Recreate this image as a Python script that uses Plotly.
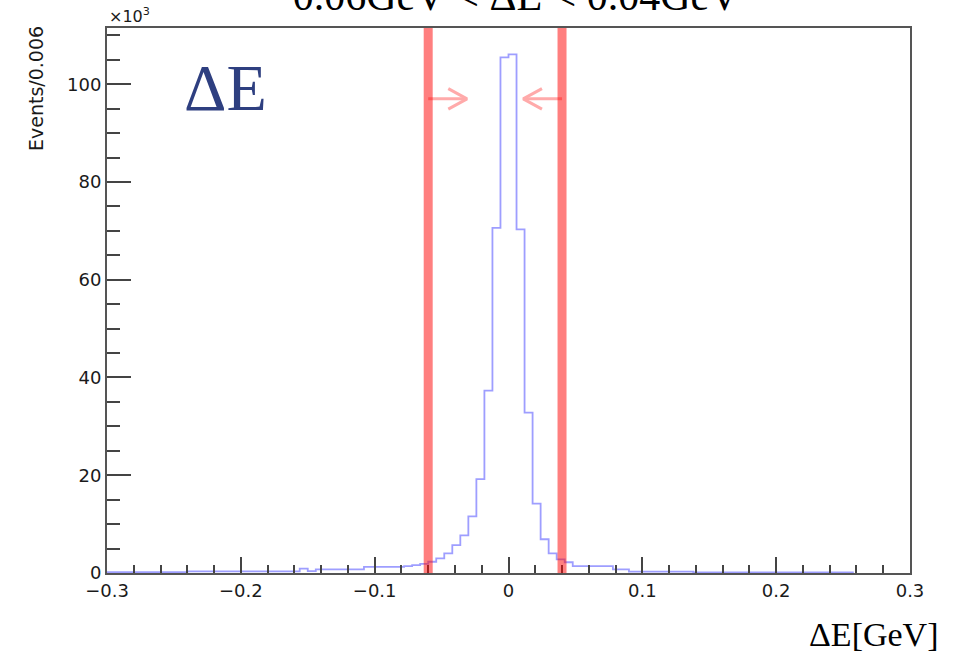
import plotly.graph_objects as go

# ---------------- data ----------------
bin_width = 0.006
x_start = -0.3
# histogram contents (x10^3 events per 0.006 GeV bin), drawn bins from -0.3 up to 0.258
counts = (
    [0.15] * 10 +                      # -0.300 .. -0.240
    [0.35] * 14 +                      # -0.240 .. -0.156
    [0.9, 0.4] +                       # -0.156 .. -0.144
    [0.75] * 6 +                       # -0.144 .. -0.108
    [1.25] * 5 +                       # -0.108 .. -0.078
    [1.4, 1.6, 1.85, 2.3, 3.0, 4.0, 5.7, 7.7, 11.6, 19.2, 37.3, 70.6,
     105.5, 106.1,
     70.3, 32.8, 14.2, 6.9, 4.0, 2.8, 2.2] +
    [1.4] * 5 +                        # 0.048 .. 0.078
    [0.75] * 2 +                       # 0.078 .. 0.090
    [0.3] * 8 +                        # 0.090 .. 0.138
    [0.1] * 20                         # 0.138 .. 0.258
)
cut_lo = -0.06
cut_hi = 0.04
x_ticks = [-0.3, -0.2, -0.1, 0, 0.1, 0.2, 0.3]
y_ticks = [0, 20, 40, 60, 80, 100]

title_text = "−0.06GeV &lt; ΔE &lt; 0.04GeV"
y_title = "Events/0.006"
x_title = "ΔE[GeV]"
big_label = "ΔE"

# ---------------- build step line ----------------
edges = [round(x_start + i * bin_width, 6) for i in range(len(counts) + 1)]
step_y = counts + [counts[-1]]

fig = go.Figure()
fig.add_trace(go.Scatter(
    x=edges, y=step_y, mode="lines", line_shape="hv",
    line=dict(color="rgba(40,40,255,0.45)", width=1.8),
    hoverinfo="skip", showlegend=False))

# arrows pointing inward from the cut lines
arrow_y = 97.0
arrow_len = 0.029
head_dx = 0.014
head_dy = 2.1
for cut, sgn in [(cut_lo, 1), (cut_hi, -1)]:
    tip = cut + sgn * arrow_len
    fig.add_trace(go.Scatter(
        x=[cut, tip, None, tip - sgn * head_dx, tip, tip - sgn * head_dx],
        y=[arrow_y, arrow_y, None, arrow_y + head_dy, arrow_y, arrow_y - head_dy],
        mode="lines", line=dict(color="#FFAAAA", width=3),
        hoverinfo="skip", showlegend=False))

# cut lines
for cut in [cut_lo, cut_hi]:
    fig.add_shape(type="line", xref="x", yref="paper", x0=cut, x1=cut, y0=0, y1=1,
                  line=dict(color="rgba(255,0,0,0.5)", width=9), layer="above")

axis_common = dict(
    showline=True, mirror=True, linecolor="#555555", linewidth=2,
    showgrid=False, zeroline=False, ticks="inside", tickcolor="#444444", tickwidth=2,
    tickfont=dict(family="DejaVu Sans", size=18, color="#1a1a1a"),
)

fig.update_xaxes(
    range=[-0.3, 0.3], tickvals=x_ticks, ticklen=16,
    minor=dict(dtick=0.02, tick0=-0.3, ticklen=8, ticks="inside", tickcolor="#444444", tickwidth=2),
    **axis_common)
fig.update_yaxes(
    range=[0, 111.5], tickvals=y_ticks, ticklen=24,
    minor=dict(dtick=5, tick0=0, ticklen=13, ticks="inside", tickcolor="#444444", tickwidth=2),
    **axis_common)

annotations = [
    dict(text=title_text, xref="paper", yref="paper", x=0.495, y=1, xanchor="center",
         yanchor="bottom", yshift=7, showarrow=False,
         font=dict(family="Liberation Serif", size=42, color="#000000")),
    dict(text="×10<sup>3</sup>", xref="paper", yref="paper", x=0, y=1, xanchor="left",
         yanchor="bottom", showarrow=False,
         font=dict(family="DejaVu Sans", size=16, color="#1a1a1a")),
    dict(text=y_title, xref="paper", yref="paper", x=0, xshift=-71, y=0.888,
         xanchor="center", yanchor="middle", textangle=-90, showarrow=False,
         font=dict(family="DejaVu Sans", size=19, color="#1a1a1a")),
    dict(text=big_label, xref="paper", yref="paper", x=0.148, y=0.89,
         xanchor="center", yanchor="middle", showarrow=False,
         font=dict(family="Liberation Serif", size=66, color="#2E3F80")),
    dict(text=x_title, xref="paper", yref="paper", x=0.954, y=-0.112,
         xanchor="center", yanchor="middle", showarrow=False,
         font=dict(family="Liberation Serif", size=34, color="#000000")),
]

fig.update_layout(
    width=961, height=656,
    margin=dict(l=107, r=51, t=28, b=83),
    paper_bgcolor="white", plot_bgcolor="white",
    annotations=annotations, showlegend=False,
)

fig.write_html("out.html")
